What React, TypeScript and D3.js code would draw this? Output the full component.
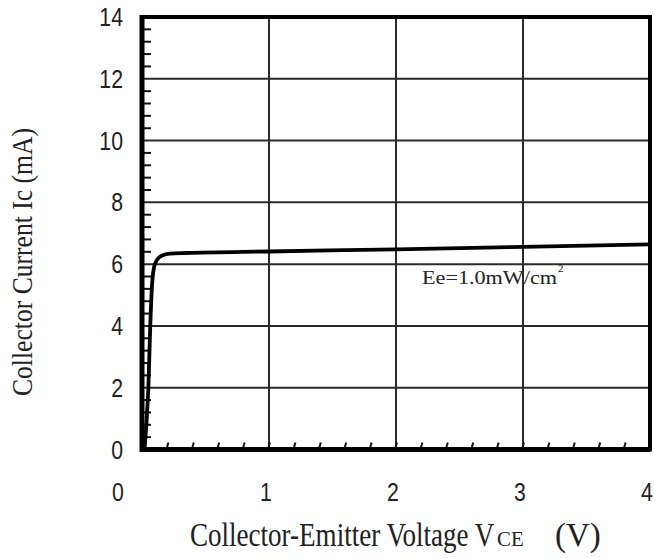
import React from "react";
import * as d3 from "d3";

const vce = [0.02, 0.04, 0.05, 0.065, 0.08, 0.095, 0.12, 0.16, 0.22, 0.35, 1, 2, 3, 4];
const ic = [0, 1.2, 2, 4, 5.4, 5.9, 6.15, 6.28, 6.34, 6.36, 6.41, 6.48, 6.56, 6.64];
const xTicks = [0, 1, 2, 3, 4];
const yTicks = [0, 2, 4, 6, 8, 10, 12, 14];
const xMinor = d3.range(0.2, 4, 0.2);
const yMinor = d3.range(0.4, 14, 0.4).filter((v) => Math.abs(v / 2 - Math.round(v / 2)) > 0.01);
const xTitle = "Collector-Emitter Voltage V";
const xTitleSub = "CE";
const xTitleUnit = "(V)";
const yTitle = "Collector Current Ic (mA)";
const legendText = "Ee=1.0mW/cm";

export default function App() {
  const W = 654, H = 558;
  const x = d3.scaleLinear().domain([0, 4]).range([142, 650]);
  const y = d3.scaleLinear().domain([0, 14]).range([449.5, 17]);
  const line = d3.line<number>().x((_, i) => x(vce[i])).y((d) => y(d)).curve(d3.curveMonotoneX);
  const sans = "'Liberation Sans Narrow', 'Liberation Sans', Arial, sans-serif";
  const serif = "'Liberation Serif', 'Times New Roman', serif";
  return (
    <svg width={W} height={H} style={{ position: "absolute", left: 0, top: 0, background: "#fff" }}>
      <rect width={W} height={H} fill="#fff" />
      {/* grid */}
      {xTicks.slice(1, -1).map((v) => (
        <line key={"gx" + v} x1={x(v)} x2={x(v)} y1={y(14)} y2={y(0)} stroke="#2a2a2a" strokeWidth={2} />
      ))}
      {yTicks.slice(1, -1).map((v) => (
        <line key={"gy" + v} x1={x(0)} x2={x(4)} y1={y(v)} y2={y(v)} stroke="#2a2a2a" strokeWidth={2} />
      ))}
      {/* minor ticks */}
      {yMinor.map((v) => (
        <line key={"my" + v} x1={x(0)} x2={x(0) + 9} y1={y(v)} y2={y(v)} stroke="#111" strokeWidth={2} />
      ))}
      {xMinor.map((v) => (
        <line key={"mx" + v} x1={x(v) - 1} x2={x(v) + 1} y1={y(0)} y2={y(0) - 7} stroke="#111" strokeWidth={2} />
      ))}
      {/* curve */}
      <path d={line(ic) || ""} fill="none" stroke="#000" strokeWidth={3.8} strokeLinejoin="round" />
      {/* frame */}
      <line x1={x(0)} x2={x(0)} y1={y(14) - 2} y2={y(0) + 2.5} stroke="#000" strokeWidth={5} />
      <line x1={x(0)} x2={x(4)} y1={y(0)} y2={y(0)} stroke="#000" strokeWidth={5} />
      <line x1={x(0)} x2={x(4) + 2} y1={y(14)} y2={y(14)} stroke="#000" strokeWidth={4} />
      <line x1={x(4)} x2={x(4)} y1={y(14)} y2={y(0) + 2} stroke="#000" strokeWidth={4} />
      {/* y tick labels */}
      {yTicks.map((v) => (
        <text key={"ty" + v} transform={`translate(123,${y(v)}) scale(0.85,1)`} dy="0.36em" textAnchor="end" fontFamily={sans} fontSize={25} fill="#222">
          {v}
        </text>
      ))}
      {/* x tick labels */}
      {xTicks.map((v) => (
        <text key={"tx" + v} transform={`translate(${v === 0 ? x(v) - 24 : x(v) - 3},492) scale(0.85,1)`} dy="0.36em" textAnchor="middle" fontFamily={sans} fontSize={25} fill="#222">
          {v}
        </text>
      ))}
      {/* legend */}
      <text x={422} y={284} fontFamily={serif} fontSize={19} fill="#222" textLength={135} lengthAdjust="spacingAndGlyphs">
        {legendText}
      </text>
      <text x={558} y={272} fontFamily={serif} fontSize={11} fill="#222">2</text>
      {/* x title */}
      <text transform="translate(190,546) scale(0.82,1)" fontFamily={serif} fontSize={33} fill="#222">
        {xTitle}
      </text>
      <text transform="translate(497,546) scale(0.95,1)" fontFamily={serif} fontSize={22} fill="#222">
        {xTitleSub}
      </text>
      <text transform="translate(555,546)" fontFamily={serif} fontSize={33} fill="#222">
        {xTitleUnit}
      </text>
      {/* y title */}
      <text transform={`translate(32,${262}) rotate(-90)`} textAnchor="middle" fontFamily={serif} fontSize={29} fill="#222" textLength={268} lengthAdjust="spacingAndGlyphs">
        {yTitle}
      </text>
    </svg>
  );
}
